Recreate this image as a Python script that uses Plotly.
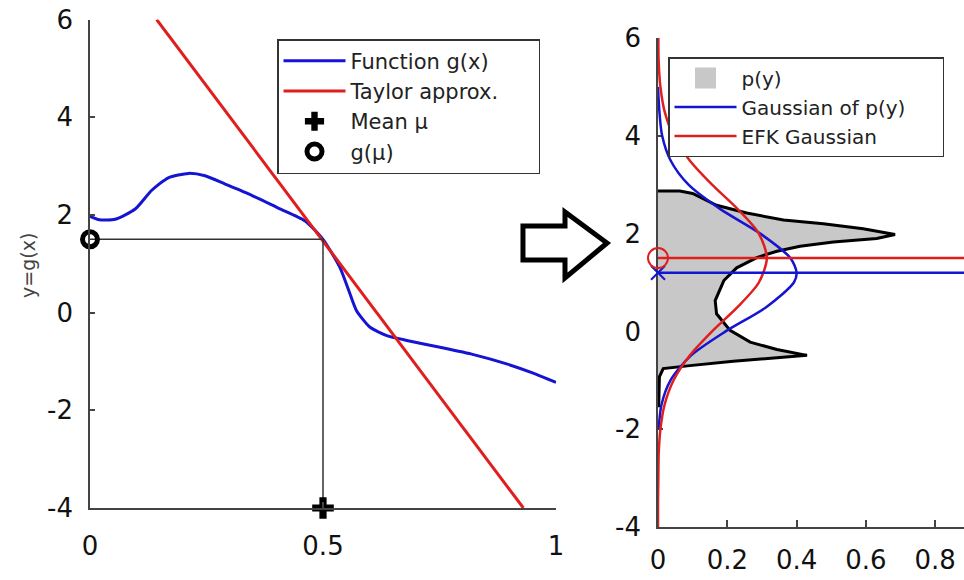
import plotly.graph_objects as go

W, H = 964, 580

# ---------------- left panel data ----------------
func_x = [0.0, 0.02, 0.054, 0.097, 0.132, 0.168, 0.211, 0.247, 0.29, 0.347, 0.404, 0.461,
          0.5, 0.536, 0.558, 0.572, 0.601, 0.637, 0.68, 0.751, 0.823, 0.894, 0.951, 1.0]
func_y = [1.97, 1.90, 1.91, 2.12, 2.50, 2.76, 2.85, 2.80, 2.63, 2.40, 2.14, 1.88,
          1.50, 0.93, 0.38, 0.04, -0.30, -0.47, -0.57, -0.71, -0.86, -1.05, -1.24, -1.43]
taylor_x = [0.143, 0.930]
taylor_y = [6.0, -4.0]
mean_mu = 0.5
g_mu = 1.5
y_min, y_max = -4, 6
left_xticks = [0, 0.5, 1]
left_xtext = ["0", "0.5", "1"]
yticks = [-4, -2, 0, 2, 4, 6]
ytext = ["-4", "-2", "0", "2", "4", "6"]

# ---------------- right panel data ----------------
hist_y = [2.87, 2.87, 2.82, 2.58, 2.42, 2.28, 2.20, 2.10, 1.98, 1.90, 1.83, 1.74, 1.64, 1.51,
          1.30, 1.04, 0.63, 0.36, 0.02, -0.22, -0.37, -0.49, -0.54, -0.61, -0.70, -0.76, -0.93, -1.55]
hist_p = [0.0, 0.063, 0.10, 0.169, 0.256, 0.362, 0.477, 0.592, 0.684, 0.631, 0.506, 0.41, 0.343, 0.285,
          0.227, 0.19, 0.165, 0.169, 0.208, 0.266, 0.343, 0.43, 0.343, 0.217, 0.092, 0.015, 0.004, 0.002]
gauss_y = [-2.0, -1.5, -1.0, -0.5, 0.0, 0.5, 1.0, 1.2, 1.5, 2.0, 2.5, 3.0, 3.5, 4.0, 4.5, 5.0]
gauss_p = [0.002, 0.010, 0.036, 0.094, 0.195, 0.313, 0.392, 0.400, 0.382, 0.295, 0.180, 0.088,
           0.036, 0.012, 0.004, 0.0]
ekf_y = [-4.0, -3.5, -3.0, -2.5, -2.0, -1.5, -1.0, -0.5, 0.0, 0.5, 1.0, 1.5, 2.0, 2.5, 3.0,
         3.5, 4.0, 4.5, 5.0, 5.5, 6.0]
ekf_p = [0.0, 0.0, 0.001, 0.002, 0.007, 0.019, 0.045, 0.091, 0.156, 0.230, 0.291, 0.314, 0.291,
         0.230, 0.156, 0.091, 0.045, 0.019, 0.007, 0.002, 0.001]
gauss_mean = 1.2
ekf_mean = 1.5
right_xmax = 0.883
right_xticks = [0, 0.2, 0.4, 0.6, 0.8]
right_xtext = ["0", "0.2", "0.4", "0.6", "0.8"]

BLUE = "#1414d2"
RED = "#e01e1e"
GRAY = "#c8c8c8"
FONT = "DejaVu Sans"
PAD = "\u00a0" * 5  # right padding inside legend boxes

fig = go.Figure()

# left panel traces
fig.add_trace(go.Scatter(x=func_x, y=func_y, mode="lines", name="Function g(x)",
                         line=dict(color=BLUE, width=3, shape="spline", smoothing=0.6),
                         xaxis="x", yaxis="y", legend="legend"))
fig.add_trace(go.Scatter(x=taylor_x, y=taylor_y, mode="lines", name="Taylor approx." + PAD,
                         line=dict(color=RED, width=3), xaxis="x", yaxis="y", legend="legend"))
fig.add_trace(go.Scatter(x=[0, mean_mu, mean_mu], y=[g_mu, g_mu, y_min], mode="lines",
                         line=dict(color="#333333", width=1.5), showlegend=False,
                         xaxis="x", yaxis="y", hoverinfo="skip"))
fig.add_trace(go.Scatter(x=[mean_mu], y=[y_min], mode="markers", name="Mean \u03bc",
                         marker=dict(symbol="cross", size=18, color="black"),
                         cliponaxis=False, xaxis="x", yaxis="y", legend="legend"))
fig.add_trace(go.Scatter(x=[0], y=[g_mu], mode="markers", name="g(\u03bc)",
                         marker=dict(symbol="circle-open", size=15, color="black",
                                     line=dict(width=5, color="black")),
                         cliponaxis=False, xaxis="x", yaxis="y", legend="legend"))

# right panel traces
fig.add_trace(go.Scatter(x=hist_p, y=hist_y, mode="lines", fill="tozerox", name="p(y)",
                         fillcolor=GRAY, line=dict(width=0, color=GRAY), showlegend=False,
                         legendgroup="py", xaxis="x2", yaxis="y2"))
fig.add_trace(go.Scatter(x=[None], y=[None], mode="markers", name="p(y)", legendgroup="py",
                         marker=dict(symbol="square", size=16, color=GRAY,
                                     line=dict(width=5, color=GRAY)),
                         xaxis="x2", yaxis="y2", legend="legend2"))
fig.add_trace(go.Scatter(x=hist_p, y=hist_y, mode="lines", showlegend=False, legendgroup="py",
                         line=dict(color="black", width=3), xaxis="x2", yaxis="y2"))
fig.add_trace(go.Scatter(x=gauss_p, y=gauss_y, mode="lines", name="Gaussian of p(y)" + PAD,
                         line=dict(color=BLUE, width=2.5, shape="spline", smoothing=0.8),
                         xaxis="x2", yaxis="y2", legend="legend2"))
fig.add_trace(go.Scatter(x=ekf_p, y=ekf_y, mode="lines", name="EFK Gaussian",
                         line=dict(color=RED, width=2.5, shape="spline", smoothing=0.8),
                         xaxis="x2", yaxis="y2", legend="legend2"))
fig.add_trace(go.Scatter(x=[0, right_xmax], y=[gauss_mean, gauss_mean], mode="lines",
                         line=dict(color=BLUE, width=2.5), showlegend=False,
                         xaxis="x2", yaxis="y2"))
fig.add_trace(go.Scatter(x=[0, right_xmax], y=[ekf_mean, ekf_mean], mode="lines",
                         line=dict(color=RED, width=2.5), showlegend=False,
                         xaxis="x2", yaxis="y2"))
fig.add_trace(go.Scatter(x=[0], y=[gauss_mean], mode="markers", showlegend=False,
                         marker=dict(symbol="x-thin-open", size=14, color=BLUE,
                                     line=dict(width=2, color=BLUE)),
                         cliponaxis=False, xaxis="x2", yaxis="y2"))
fig.add_trace(go.Scatter(x=[0], y=[ekf_mean], mode="markers", showlegend=False,
                         marker=dict(symbol="circle-open", size=20, color=RED,
                                     line=dict(width=2, color=RED)),
                         cliponaxis=False, xaxis="x2", yaxis="y2"))

axis_common = dict(showgrid=False, zeroline=False, showline=True, linecolor="#444444",
                   linewidth=1.5, ticks="inside", tickcolor="#444444", tickwidth=1.5,
                   automargin=False,
                   tickfont=dict(family=FONT, size=26, color="#111111"))

fig.update_layout(
    width=W, height=H, margin=dict(l=0, r=0, t=0, b=0, pad=0, autoexpand=False),
    paper_bgcolor="white", plot_bgcolor="white", showlegend=True,
    xaxis=dict(domain=[90 / W, 556 / W], range=[0, 1], anchor="y", tickvals=left_xticks,
               ticktext=left_xtext, ticklen=6, ticklabelstandoff=14, **axis_common),
    yaxis=dict(domain=[1 - 508 / H, 1 - 19.5 / H], range=[y_min, y_max], anchor="x",
               tickvals=yticks, ticktext=ytext, ticklen=5, ticklabelstandoff=10, **axis_common),
    xaxis2=dict(domain=[658 / W, 1.0], range=[0, right_xmax], anchor="y2",
                tickvals=right_xticks, ticktext=right_xtext, ticklen=7,
                ticklabelstandoff=9, layer="below traces", **axis_common),
    yaxis2=dict(domain=[1 - 527 / H, 1 - 38 / H], range=[y_min, y_max], anchor="x2",
                tickvals=yticks, ticktext=ytext, ticklen=5, ticklabelstandoff=10,
                layer="below traces", **axis_common),
    legend=dict(x=277 / W, y=1 - 39 / H, xanchor="left", yanchor="top", bgcolor="white",
                bordercolor="#333333", borderwidth=1.5, itemwidth=62,
                font=dict(family=FONT, size=21, color="#222222"), tracegroupgap=0),
    legend2=dict(x=668 / W, y=1 - 57 / H, xanchor="left", yanchor="top", bgcolor="white",
                 bordercolor="#333333", borderwidth=1.5, itemwidth=62,
                 font=dict(family=FONT, size=20, color="#222222"), tracegroupgap=0),
    annotations=[dict(text="y=g(x)", xref="paper", yref="paper", x=15 / W, y=1 - 266 / H,
                      showarrow=False, textangle=-90,
                      font=dict(family=FONT, size=19, color="#444444"))],
    shapes=[dict(type="path", xref="paper", yref="paper",
                 path="M {:.4f} {:.4f} L {:.4f} {:.4f} L {:.4f} {:.4f} L {:.4f} {:.4f} L {:.4f} {:.4f} L {:.4f} {:.4f} L {:.4f} {:.4f} Z".format(
                     523 / W, 1 - 226 / H, 565 / W, 1 - 226 / H, 565 / W, 1 - 212 / H,
                     607 / W, 1 - 243 / H, 565 / W, 1 - 278 / H, 565 / W, 1 - 260 / H,
                     523 / W, 1 - 260 / H),
                 line=dict(color="black", width=5), fillcolor="rgba(0,0,0,0)")],
)

fig.write_html("out.html")
